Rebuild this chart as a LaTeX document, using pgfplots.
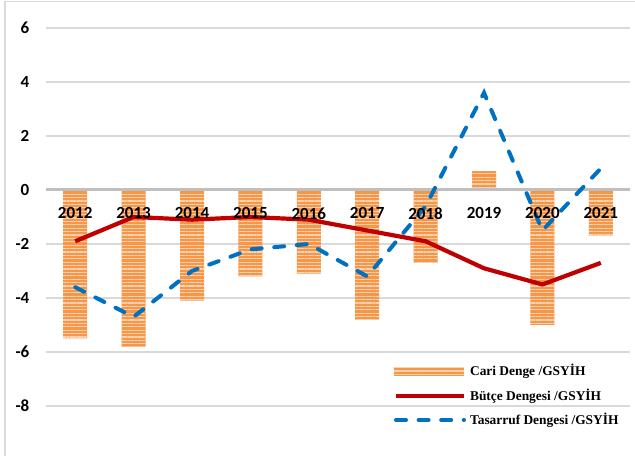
\documentclass[border=0pt]{standalone}
\usepackage{pgfplots}
\pgfplotsset{compat=1.18}
\usepackage{fontspec}
\setmainfont{Liberation Serif}
\newfontfamily\calibri{Carlito}
\usetikzlibrary{patterns.meta}

\definecolor{barorange}{HTML}{F79646}
\definecolor{stripe}{HTML}{FBD3B2}
\definecolor{budgetred}{HTML}{C00000}
\definecolor{savingblue}{HTML}{0070C0}
\definecolor{gridgray}{HTML}{D9D9D9}
\definecolor{zerogray}{HTML}{BFBFBF}

\pgfplotsset{
  linelegend/.style={legend image code/.code={\draw[##1] (1pt,0pt) -- (35pt,0pt);}},
}

\begin{document}
\begin{tikzpicture}
\begin{axis}[
  scale only axis, width=292pt, height=213.3pt,
  xmin=-0.5, xmax=9.5, ymin=-9.8, ymax=6,
  axis line style={draw=none},
  xtick={0,1,2,3,4,5,6,7,8,9}, xticklabels={},
  ytick={-8,-6,-4,-2,0,2,4,6},
  yticklabel={\pgfmathparse{int(\tick)}\pgfmathresult},
  major tick length=0pt,
  ymajorgrids, grid style={gridgray, line width=0.75pt},
  yticklabel style={font=\calibri\bfseries\fontsize{8.5}{9}\selectfont, text=black, anchor=east, xshift=-4.8pt},
  legend cell align=left,
  legend style={at={(axis cs:5.45,-6.3)}, anchor=north west, draw=none, fill=none,
    font=\bfseries\fontsize{6.7}{8}\selectfont, row sep=0.8pt, inner sep=0pt},
]
\addplot[ybar, bar width=12pt, draw=none, fill=barorange,
  postaction={pattern={Lines[angle=0,distance=1.7pt,line width=0.55pt]}, pattern color=stripe},
  legend image code/.code={
    \fill[barorange] (0pt,-2pt) rectangle (35pt,2pt);
    \fill[pattern={Lines[angle=0,distance=1.7pt,line width=0.55pt]}, pattern color=stripe] (0pt,-2pt) rectangle (35pt,2pt);}]
  coordinates {(0,-5.5) (1,-5.8) (2,-4.1) (3,-3.2) (4,-3.1) (5,-4.8) (6,-2.7) (7,0.7) (8,-5.0) (9,-1.7)};
\addlegendentry{Cari Denge /GSYİH}
\draw[zerogray, line width=1.5pt] (axis cs:-0.5,0) -- (axis cs:9.5,0);
% year labels just under the zero line
\addplot[draw=none, mark=none, forget plot, point meta=explicit symbolic,
  nodes near coords, nodes near coords align={below},
  every node near coord/.append style={font=\calibri\bfseries\fontsize{8.5}{9}\selectfont, text=black, yshift=-5.3pt}]
  coordinates {(0,0)[2012] (1,0)[2013] (2,0)[2014] (3,0)[2015] (4,0)[2016] (5,0)[2017] (6,0)[2018] (7,0)[2019] (8,0)[2020] (9,0)[2021]};
\addplot[budgetred, line width=2.1pt, mark=none, linelegend]
  coordinates {(0,-1.9) (1,-1.0) (2,-1.1) (3,-1.0) (4,-1.1) (5,-1.5) (6,-1.9) (7,-2.9) (8,-3.5) (9,-2.7)};
\addlegendentry{Bütçe Dengesi /GSYİH}
\addplot[savingblue, line width=2pt, mark=none, line cap=round, dash pattern=on 5pt off 6.3pt, linelegend]
  coordinates {(0,-3.6) (1,-4.7) (2,-3.0) (3,-2.2) (4,-2.0) (5,-3.2) (6,-0.6) (7,3.6) (8,-1.5) (9,0.8)};
\addlegendentry{Tasarruf Dengesi /GSYİH}
\end{axis}
\draw[gridgray, line width=0.6pt] ([shift={(-20.5pt,-2pt)}]current axis.south west) |- ([shift={(4pt,13.3pt)}]current axis.north east);
\pgfresetboundingbox
\path[use as bounding box] ([shift={(-23pt,-0.7pt)}]current axis.south west) rectangle ([shift={(2.5pt,14pt)}]current axis.north east);
\end{tikzpicture}
\end{document}
